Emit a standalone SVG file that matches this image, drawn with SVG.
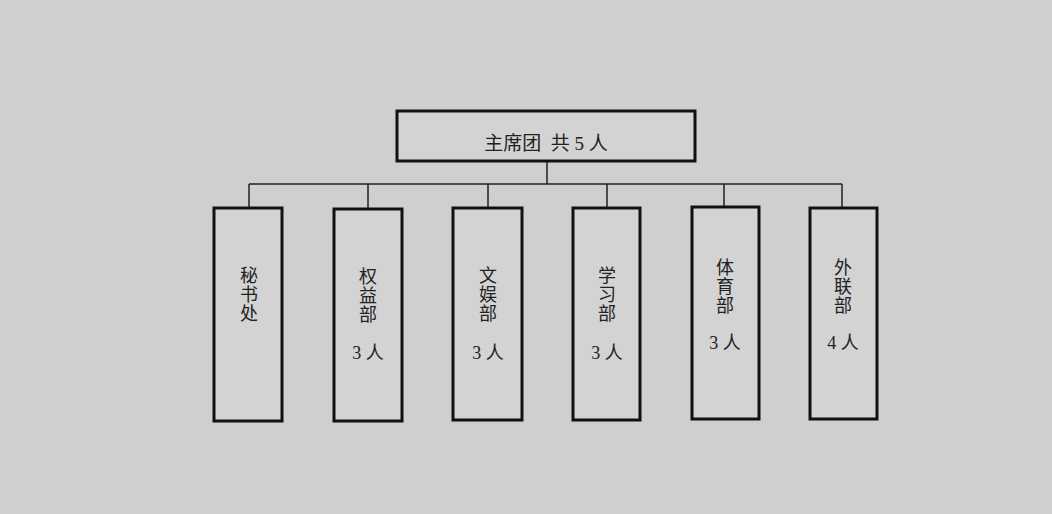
<svg xmlns="http://www.w3.org/2000/svg" width="1052" height="514" viewBox="0 0 1052 514">
<style>
.box{fill:#d3d3d3;stroke:#111;stroke-width:3}
.conn{fill:none;stroke:#222;stroke-width:1.5}
text{font-family:"Liberation Serif","Noto Sans CJK SC",serif;font-size:18px;fill:#222;text-anchor:middle}
.title{font-size:19px}
</style>
<rect width="1052" height="514" fill="#cfcfcf"/>
<g id="connectors">
<path class="conn" d="M547 161V184M249 184H842M249 184V208M368 184V209M488 184V208M607 184V208M724 184V207M842 184V208"/>
</g>
<g id="top">
<rect class="box" x="397" y="111" width="298" height="50"/>
<text class="title" x="546" y="150" xml:space="preserve">主席团  共 5 人</text>
</g>
<g id="mishu">
<rect class="box" x="214" y="208" width="68" height="213"/>
<text x="249" y="282">秘</text><text x="249" y="301">书</text><text x="249" y="320">处</text>
</g>
<g id="quanyi">
<rect class="box" x="334" y="209" width="68" height="212"/>
<text x="368" y="283">权</text><text x="368" y="302">益</text><text x="368" y="321">部</text>
<text x="368" y="359">3 人</text>
</g>
<g id="wenyu">
<rect class="box" x="453" y="208" width="69" height="212"/>
<text x="488" y="282">文</text><text x="488" y="301">娱</text><text x="488" y="320">部</text>
<text x="488" y="359">3 人</text>
</g>
<g id="xuexi">
<rect class="box" x="573" y="208" width="67" height="212"/>
<text x="607" y="282">学</text><text x="607" y="301">习</text><text x="607" y="320">部</text>
<text x="607" y="359">3 人</text>
</g>
<g id="tiyu">
<rect class="box" x="692" y="207" width="67" height="212"/>
<text x="725" y="274">体</text><text x="725" y="293">育</text><text x="725" y="312">部</text>
<text x="725" y="349">3 人</text>
</g>
<g id="wailian">
<rect class="box" x="810" y="208" width="67" height="211"/>
<text x="843" y="274">外</text><text x="843" y="293">联</text><text x="843" y="312">部</text>
<text x="843" y="349">4 人</text>
</g>
</svg>
